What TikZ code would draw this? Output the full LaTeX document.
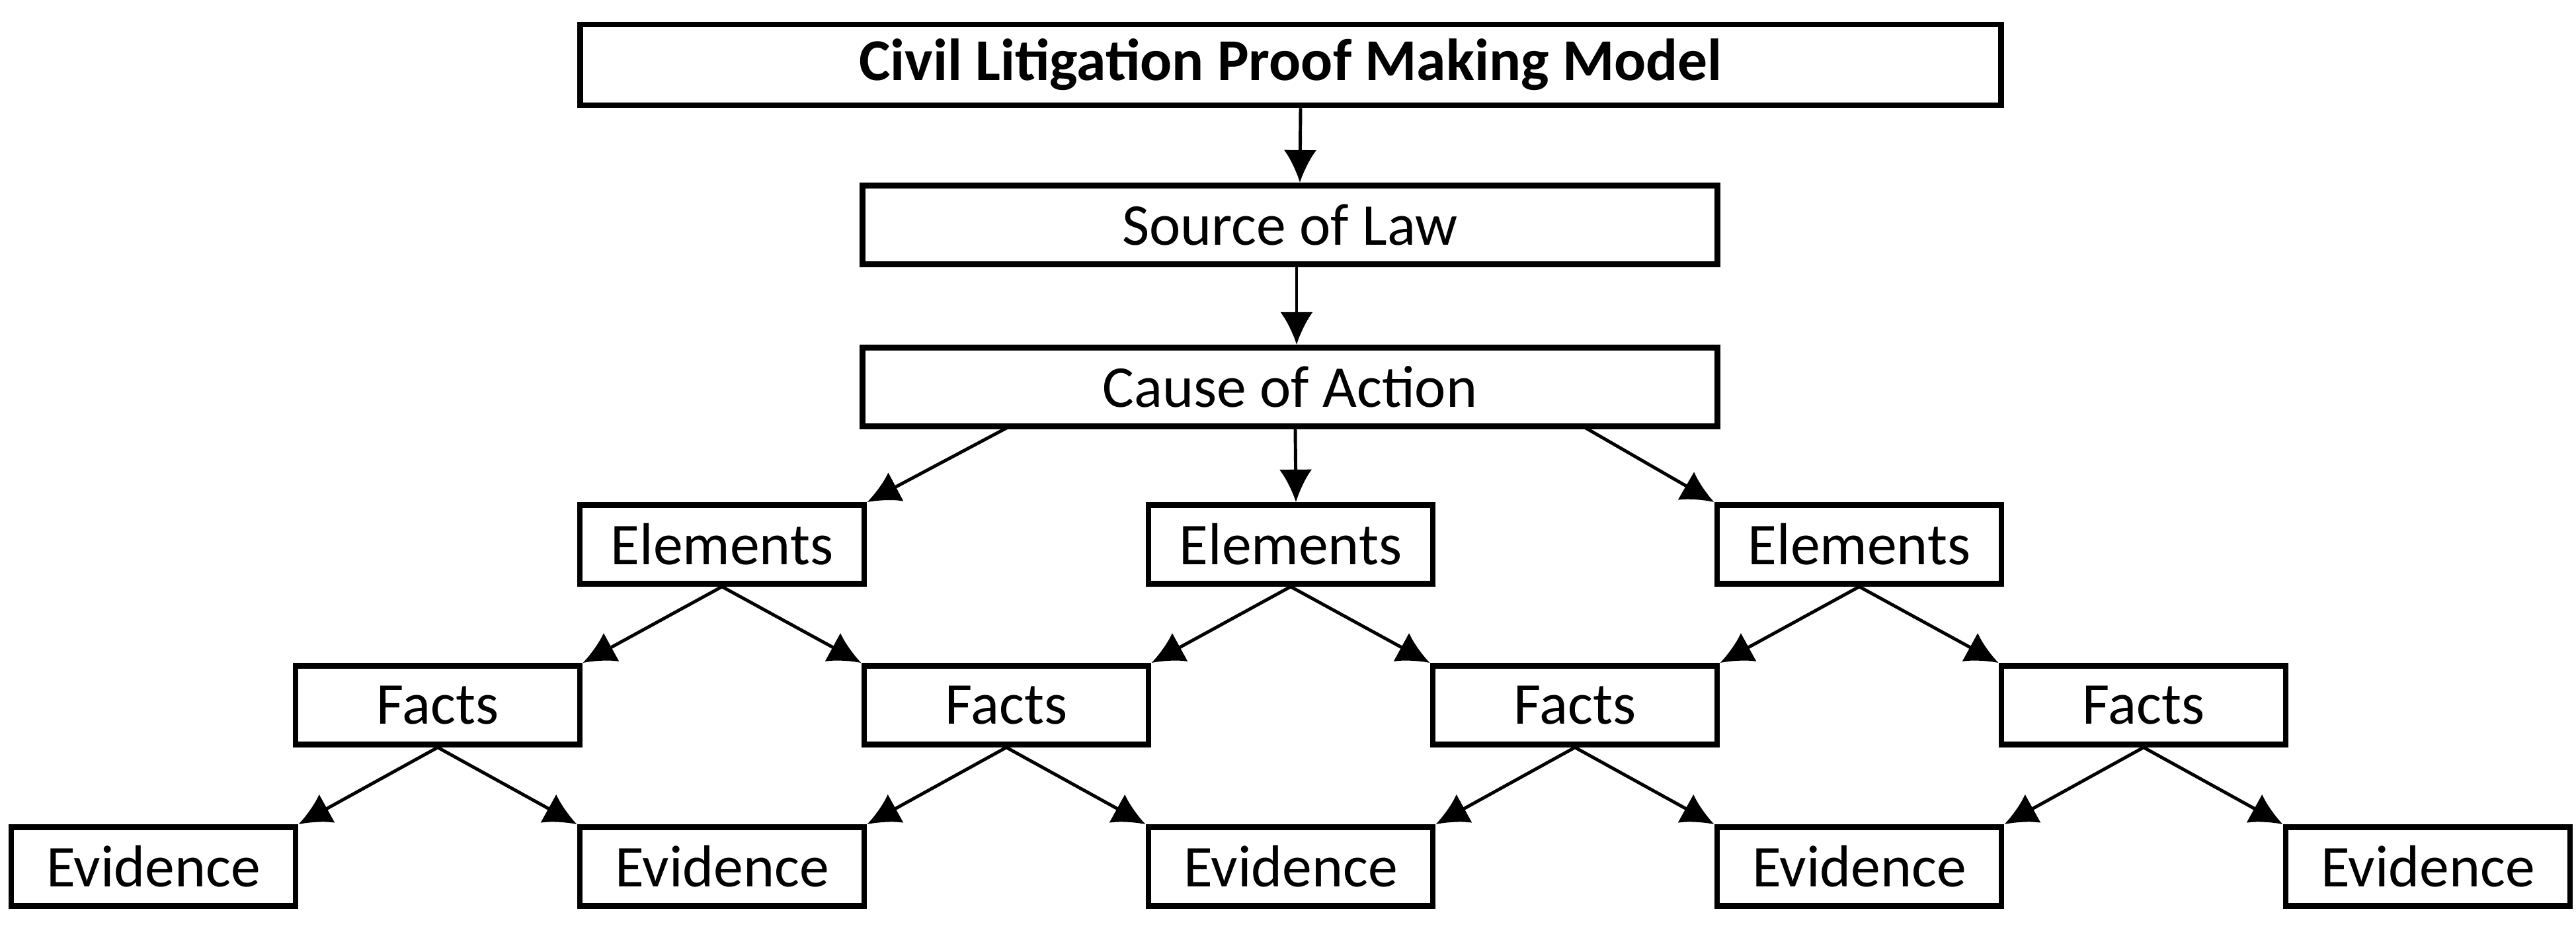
\documentclass[tikz,border=0pt]{standalone}
\usepackage{fontspec}
\setmainfont{Carlito}
\usetikzlibrary{arrows.meta}

\begin{document}
\begin{tikzpicture}[
    box/.style={draw, line width=2.5pt, inner sep=0pt, minimum height=1.19cm,
      font=\fontsize{25.5}{30}\selectfont},
    small/.style={box, minimum width=4.3cm},
    wide/.style={box, minimum width=12.93cm},
    arrow/.style={-{Latex[length=14pt,width=14pt]}, line width=1.4pt}]

      \useasboundingbox (0,0) rectangle (38.96,-14.18);

      % The title box.
      \node [box, minimum width=21.49cm, minimum height=1.22cm,
        font=\fontsize{25.5}{30}\selectfont\bfseries] (title) at (19.52,-0.98)
        {Civil Litigation Proof Making Model};

      % The source of law and the cause of action.
      \node [wide] (source) at (19.51,-3.40) {Source of Law};
      \node [wide] (cause) at (19.51,-5.85) {Cause of Action};

      % The row of elements.
      \node [small] (elem1) at (10.92,-8.23) {Elements};
      \node [small] (elem2) at (19.52,-8.23) {Elements};
      \node [small] (elem3) at (28.12,-8.23) {Elements};

      % The row of facts.
      \node [small] (facts1) at (6.62,-10.66) {Facts};
      \node [small] (facts2) at (15.22,-10.66) {Facts};
      \node [small] (facts3) at (23.82,-10.66) {Facts};
      \node [small] (facts4) at (32.42,-10.66) {Facts};

      % The row of evidence.
      \node [small] (evid1) at (2.32,-13.10) {Evidence};
      \node [small] (evid2) at (10.92,-13.10) {Evidence};
      \node [small] (evid3) at (19.52,-13.10) {Evidence};
      \node [small] (evid4) at (28.12,-13.10) {Evidence};
      \node [small] (evid5) at (36.72,-13.10) {Evidence};

      % The ends of the outer arrows under the cause of action.
      \coordinate (causeL) at (15.28,-6.44);
      \coordinate (causeR) at (23.93,-6.44);

      % Down the middle.
      \draw [arrow] ([xshift=0.15cm]title.south) -- ([xshift=0.15cm]source.north);
      \draw [arrow] ([xshift=0.1cm]source.south) -- ([xshift=0.1cm]cause.north);
      \draw [arrow] (causeL) -- (elem1.north east);
      \draw [arrow] ([xshift=0.08cm]cause.south) -- ([xshift=0.08cm]elem2.north);
      \draw [arrow] (causeR) -- (elem3.north west);

      % From the elements to the facts.
      \draw [arrow] (elem1.south) -- (facts1.north east);
      \draw [arrow] (elem1.south) -- (facts2.north west);
      \draw [arrow] (elem2.south) -- (facts2.north east);
      \draw [arrow] (elem2.south) -- (facts3.north west);
      \draw [arrow] (elem3.south) -- (facts3.north east);
      \draw [arrow] (elem3.south) -- (facts4.north west);

      % From the facts to the evidence.
      \draw [arrow] (facts1.south) -- (evid1.north east);
      \draw [arrow] (facts1.south) -- (evid2.north west);
      \draw [arrow] (facts2.south) -- (evid2.north east);
      \draw [arrow] (facts2.south) -- (evid3.north west);
      \draw [arrow] (facts3.south) -- (evid3.north east);
      \draw [arrow] (facts3.south) -- (evid4.north west);
      \draw [arrow] (facts4.south) -- (evid4.north east);
      \draw [arrow] (facts4.south) -- (evid5.north west);

    \end{tikzpicture}
\end{document}
